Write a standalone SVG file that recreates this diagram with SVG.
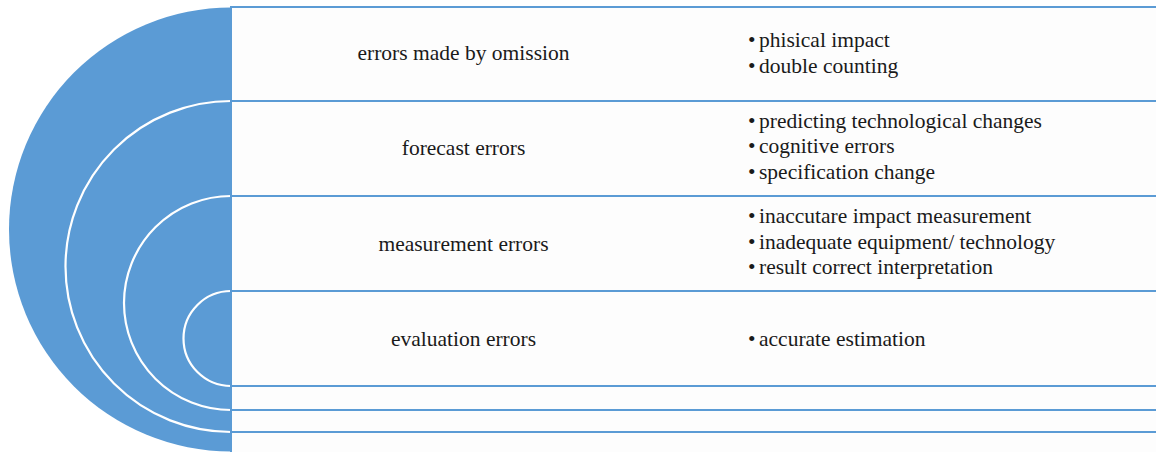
<svg xmlns="http://www.w3.org/2000/svg" width="1156" height="452" viewBox="0 0 1156 452">
<style>
.row{fill:#fdfdfd;stroke:#5b9bd5;stroke-width:2}
.arc{fill:none;stroke:#ffffff;stroke-width:2.2}
.lbl{font-family:"Liberation Serif","Times New Roman",serif;font-size:21.5px;fill:#1a1a1a;text-anchor:middle}
.itm{font-family:"Liberation Serif","Times New Roman",serif;font-size:21.5px;fill:#1a1a1a}
</style>
<rect x="0" y="0" width="1156" height="452" fill="#ffffff"/>
<g id="disc">
<path d="M231,7.5 A222,222 0 0 0 231,451.5 Z" fill="#5b9bd5"/>
</g>
<g id="connectors">
<path class="arc" d="M231,101 A165.5,165.5 0 0 0 231,432"/>
<path class="arc" d="M231,196 A107,107 0 0 0 231,410"/>
<path class="arc" d="M231,291 A47.5,47.5 0 0 0 231,386"/>
</g>
<g id="row-omission">
<rect class="row" x="231" y="7" width="940" height="94"/>
<text class="lbl" x="463.5" y="59.5">errors made by omission</text>
<text class="itm" x="748" y="47">•</text><text class="itm" x="759" y="47">phisical impact</text>
<text class="itm" x="748" y="72.5">•</text><text class="itm" x="759" y="72.5">double counting</text>
</g>
<g id="row-forecast">
<rect class="row" x="231" y="101" width="940" height="95"/>
<text class="lbl" x="463.5" y="155">forecast errors</text>
<text class="itm" x="748" y="127.5">•</text><text class="itm" x="759" y="127.5">predicting technological changes</text>
<text class="itm" x="748" y="153">•</text><text class="itm" x="759" y="153">cognitive errors</text>
<text class="itm" x="748" y="178.5">•</text><text class="itm" x="759" y="178.5">specification change</text>
</g>
<g id="row-measurement">
<rect class="row" x="231" y="196" width="940" height="95"/>
<text class="lbl" x="463.5" y="250.5">measurement errors</text>
<text class="itm" x="748" y="223">•</text><text class="itm" x="759" y="223">inaccutare impact measurement</text>
<text class="itm" x="748" y="248.5">•</text><text class="itm" x="759" y="248.5">inadequate equipment/ technology</text>
<text class="itm" x="748" y="274">•</text><text class="itm" x="759" y="274">result correct interpretation</text>
</g>
<g id="row-evaluation">
<rect class="row" x="231" y="291" width="940" height="95"/>
<text class="lbl" x="463.5" y="346">evaluation errors</text>
<text class="itm" x="748" y="346">•</text><text class="itm" x="759" y="346">accurate estimation</text>
</g>
<g id="row-empty-1">
<rect class="row" x="231" y="386" width="940" height="24"/>
</g>
<g id="row-empty-2">
<rect class="row" x="231" y="410" width="940" height="22"/>
</g>
<g id="row-empty-3">
<rect class="row" x="231" y="432" width="940" height="40"/>
</g>
</svg>
